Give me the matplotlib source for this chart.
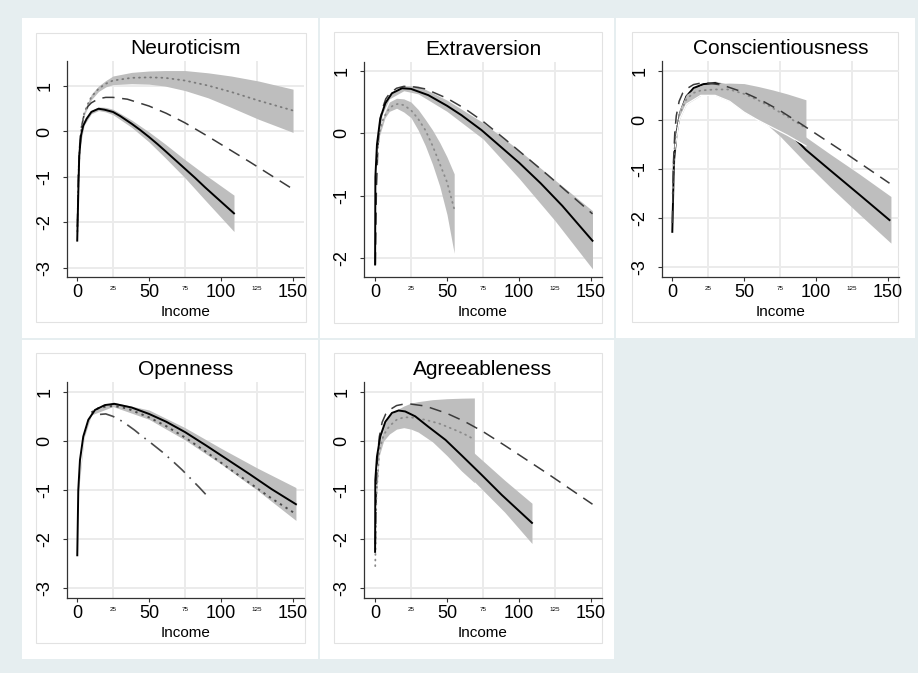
import matplotlib
matplotlib.use('Agg')
import matplotlib.pyplot as plt
from matplotlib.patches import Rectangle

plt.rcParams['font.family'] = ['Liberation Sans', 'DejaVu Sans']
plt.rcParams['axes.unicode_minus'] = False

W, H = 918, 673
BG = '#e6eef0'
BAND = '#bebebe'
GRID = '#ebebeb'
AXC = '#333333'

# ---- data ----
titles = ['Neuroticism', 'Extraversion', 'Conscientiousness', 'Openness', 'Agreeableness']
xticks = [0, 50, 100, 150]
xminor = [25, 75, 125]

# reference curve (long dash), the same in every panel
ref_x = [0.3, 1, 2, 3, 5, 7.5, 10, 15, 20, 25, 35, 50, 62, 75, 90, 105, 120, 135, 151]
ref_y = [-2.1, -0.9, -0.25, 0.08, 0.38, 0.55, 0.63, 0.72, 0.75, 0.75, 0.71, 0.56, 0.40, 0.19,
         -0.09, -0.38, -0.67, -0.97, -1.29]

# Neuroticism
neu_x = [0.2, 1, 1.6, 2.8, 4.4, 6.7, 10, 15, 19, 25, 30, 38, 44, 50, 56, 61, 68, 75, 82, 89, 96, 109]
neu_y = [-2.40, -1.26, -0.53, -0.09, 0.13, 0.28, 0.43, 0.50, 0.48, 0.43, 0.34, 0.17, 0.03, -0.12,
         -0.28, -0.42, -0.62, -0.82, -1.02, -1.23, -1.43, -1.80]
neu_band_x = [0.5, 2, 5, 10, 15, 20, 25, 38, 50, 61, 75, 89, 109]
neu_band_hi = [-1.75, -0.25, 0.22, 0.47, 0.54, 0.53, 0.49, 0.25, -0.01, -0.27, -0.62, -0.95, -1.40]
neu_band_lo = [-1.85, -0.35, 0.14, 0.39, 0.46, 0.43, 0.37, 0.09, -0.23, -0.57, -1.02, -1.51, -2.20]
neu_dot_x = [0.3, 1, 2, 3, 5, 7.5, 10, 15, 20, 25, 38, 50, 61, 75, 91, 107, 126, 150]
neu_dot_y = [-2.2, -1.0, -0.3, 0.05, 0.4, 0.6, 0.76, 0.94, 1.05, 1.12, 1.18, 1.19, 1.18, 1.12, 1.01, 0.87, 0.68, 0.46]
neu_dband_x = [1, 3, 5, 10, 15, 20, 25, 38, 50, 61, 75, 91, 107, 126, 150]
neu_dband_hi = [-0.95, 0.1, 0.45, 0.82, 1.00, 1.12, 1.22, 1.30, 1.33, 1.34, 1.34, 1.29, 1.22, 1.11, 0.93]
neu_dband_lo = [-1.05, 0.0, 0.35, 0.70, 0.88, 0.98, 1.03, 1.05, 1.04, 1.0, 0.9, 0.74, 0.53, 0.27, -0.02]

# Extraversion
ext_x = [0.1, 0.3, 1.4, 3.7, 7.2, 11.8, 18.8, 25, 37, 50, 60, 74, 88, 100, 115, 130, 151]
ext_y = [-2.1, -0.70, -0.18, 0.24, 0.48, 0.64, 0.72, 0.71, 0.61, 0.44, 0.29, 0.05, -0.23, -0.47,
         -0.80, -1.16, -1.72]
ext_band_x = [1, 5, 10, 20, 30, 50, 75, 100, 125, 151]
ext_band_hi = [-0.3, 0.38, 0.62, 0.76, 0.76, 0.53, 0.17, -0.27, -0.75, -1.24]
ext_band_lo = [-0.4, 0.30, 0.55, 0.68, 0.63, 0.35, -0.09, -0.72, -1.40, -2.17]
ext_dot_x = [1, 3, 6, 10, 13, 16, 20, 25, 30, 35, 40, 44, 50, 55]
ext_dot_y = [-0.5, 0.0, 0.25, 0.40, 0.45, 0.47, 0.45, 0.37, 0.23, 0.05, -0.20, -0.43, -0.78, -1.21]
ext_dband_x = [3, 7, 10, 15, 20, 25, 30, 35, 40, 45, 50, 55]
ext_dband_hi = [0.05, 0.35, 0.50, 0.56, 0.55, 0.50, 0.38, 0.22, 0.05, -0.15, -0.38, -0.65]
ext_dband_lo = [-0.05, 0.25, 0.35, 0.40, 0.34, 0.25, 0.05, -0.20, -0.50, -0.85, -1.30, -1.92]

# Conscientiousness
con_x = [0.25, 1.4, 3.2, 5.6, 10, 15, 22, 30, 40, 50, 60, 70, 80, 93, 110, 130, 151]
con_y = [-2.28, -0.82, -0.27, 0.14, 0.48, 0.65, 0.73, 0.75, 0.66, 0.50, 0.30, 0.06, -0.22, -0.61, -1.03, -1.52, -2.04]
con_band_x = [1, 3, 5, 10, 20, 30, 40, 50, 60, 75, 93, 110, 130, 152]
con_band_hi = [-1.0, -0.3, 0.12, 0.52, 0.75, 0.79, 0.72, 0.58, 0.40, 0.10, -0.35, -0.70, -1.10, -1.56]
con_band_lo = [-1.2, -0.45, 0.02, 0.42, 0.65, 0.65, 0.52, 0.30, 0.06, -0.33, -0.88, -1.37, -1.92, -2.51]
con_dot_x = [0.5, 1.5, 3, 5, 10, 15, 20, 25, 30, 40, 50, 60, 70, 80, 93]
con_dot_y = [-1.5, -0.7, -0.2, 0.1, 0.42, 0.55, 0.60, 0.61, 0.62, 0.62, 0.53, 0.40, 0.24, 0.07, -0.17]
con_dband_x = [2, 5, 10, 20, 30, 40, 50, 60, 70, 80, 93]
con_dband_hi = [-0.4, 0.2, 0.52, 0.70, 0.74, 0.75, 0.74, 0.68, 0.61, 0.53, 0.41]
con_dband_lo = [-0.6, 0.0, 0.32, 0.50, 0.50, 0.38, 0.16, -0.01, -0.16, -0.31, -0.53]

# Openness
ope_x = [0.23, 0.93, 2.1, 4.4, 7.9, 12.5, 19.4, 26, 38, 50, 62, 75, 90, 105, 120, 135, 152]
ope_y = [-2.33, -1.0, -0.39, 0.09, 0.43, 0.63, 0.73, 0.755, 0.68, 0.55, 0.39, 0.18, -0.10, -0.39, -0.68, -0.98, -1.29]
ope_band_x = [1, 5, 10, 25, 50, 75, 100, 125, 152]
ope_band_hi = [-0.95, 0.15, 0.59, 0.79, 0.63, 0.27, -0.15, -0.55, -0.95]
ope_band_lo = [-1.05, 0.07, 0.53, 0.70, 0.44, 0.02, -0.47, -1.0, -1.62]
ope_dot_x = [10, 15, 20, 26, 35, 50, 62, 75, 90, 105, 120, 135, 152]
ope_dot_y = [0.58, 0.67, 0.70, 0.71, 0.66, 0.48, 0.30, 0.07, -0.23, -0.55, -0.86, -1.17, -1.49]
ope_dd_x = [16, 20, 25, 32, 40, 45, 50, 59, 66, 73, 80, 85, 91]
ope_dd_y = [0.54, 0.55, 0.50, 0.39, 0.22, 0.10, -0.01, -0.22, -0.40, -0.59, -0.80, -0.95, -1.14]

# Agreeableness
agr_x = [0.1, 0.25, 1.4, 3.7, 7.2, 11.8, 16.4, 21, 28, 37, 49, 60, 74, 88, 109]
agr_y = [-2.26, -0.8, -0.32, 0.09, 0.39, 0.57, 0.62, 0.60, 0.50, 0.29, 0.02, -0.29, -0.69, -1.10, -1.67]
agr_band_x = [1, 5, 10, 20, 30, 50, 69, 90, 109]
agr_band_hi = [-0.45, 0.26, 0.53, 0.66, 0.54, 0.15, -0.25, -0.80, -1.27]
agr_band_lo = [-0.55, 0.18, 0.47, 0.56, 0.40, -0.12, -0.83, -1.45, -2.09]
agr_dot_x = [0.2, 1, 3, 6, 10, 15, 20, 25, 35, 45, 55, 62, 69]
agr_dot_y = [-2.55, -1.1, -0.2, 0.12, 0.30, 0.43, 0.48, 0.48, 0.43, 0.35, 0.23, 0.14, 0.03]
agr_dband_x = [1, 3, 6, 10, 15, 20, 25, 30, 40, 50, 60, 69]
agr_dband_hi = [-1.0, -0.1, 0.25, 0.50, 0.63, 0.71, 0.77, 0.80, 0.84, 0.86, 0.87, 0.875]
agr_dband_lo = [-1.2, -0.3, 0.0, 0.14, 0.24, 0.27, 0.24, 0.18, -0.02, -0.30, -0.61, -0.85]


fig = plt.figure(figsize=(W / 100, H / 100), dpi=100, facecolor=BG)


def px_rect(x0, y0, x1, y1, **kw):
    r = Rectangle((x0 / W, 1 - y1 / H), (x1 - x0) / W, (y1 - y0) / H,
                  transform=fig.transFigure, zorder=-10, **kw)
    fig.add_artist(r)


# white graph regions + inner light boxes
outer = [(22, 18, 318, 338), (320, 18, 614, 338), (616, 18, 915, 338),
         (22, 340, 318, 659), (320, 340, 614, 659)]
inner = [(36, 33, 306, 322), (334, 32, 602, 323), (632, 32, 898, 322),
         (36, 353, 305, 643), (334, 353, 602, 643)]
for o in outer:
    px_rect(*o, facecolor='white', edgecolor='none')
for b in inner:
    px_rect(*b, facecolor='none', edgecolor='#e2e2e2', lw=0.8)


def make_ax(l, t, r, b, xlim, ylim, yticks, title):
    ax = fig.add_axes([l / W, 1 - b / H, (r - l) / W, (b - t) / H])
    ax.set_facecolor('none')
    ax.set_xlim(*xlim)
    ax.set_ylim(*ylim)
    for s in ['top', 'right']:
        ax.spines[s].set_visible(False)
    for s in ['left', 'bottom']:
        ax.spines[s].set_color(AXC)
        ax.spines[s].set_linewidth(0.9)
    ax.set_xticks(xticks)
    ax.set_xticklabels([str(v) for v in xticks], fontsize=13)
    ax.set_xticks(xminor, minor=True)
    ax.set_xticklabels([str(v) for v in xminor], minor=True, fontsize=4.5)
    ax.set_yticks(yticks)
    ax.set_yticklabels([str(v) for v in yticks], fontsize=13, rotation=90, va='center')
    ax.tick_params(axis='x', which='major', length=3, width=0.8, color=AXC, pad=2)
    ax.tick_params(axis='x', which='minor', length=0, pad=6.3)
    ax.tick_params(axis='y', which='major', length=3, width=0.8, color=AXC, pad=6.6)
    ax.xaxis.grid(True, which='minor', color=GRID, lw=1.4)
    ax.yaxis.grid(True, which='major', color=GRID, lw=1.4)
    ax.set_axisbelow(True)
    ax.set_xlabel('Income', fontsize=11, labelpad=3)
    ax.set_title(title, fontsize=15, pad=5)
    return ax


def band(ax, x, lo, hi, z=1):
    ax.fill_between(x, lo, hi, color=BAND, lw=0, zorder=z)


def solid(ax, x, y, z=5):
    ax.plot(x, y, color='black', lw=1.4, zorder=z)


def ref(ax, z=4):
    ax.plot(ref_x, ref_y, color='#3a3a3a', lw=1.1, dashes=(8, 5), zorder=z)


def dotted(ax, x, y, color='#7a7a7a', z=4):
    ax.plot(x, y, color=color, lw=1.3, dashes=(0.5, 2.6), dash_capstyle='round', zorder=z)


yt5 = [1, 0, -1, -2, -3]

# Neuroticism
ax = make_ax(67, 61, 304, 277, (-6.9, 157.6), (-3.2, 1.55), yt5, titles[0])
band(ax, neu_dband_x, neu_dband_lo, neu_dband_hi)
band(ax, neu_band_x, neu_band_lo, neu_band_hi)
ref(ax)
dotted(ax, neu_dot_x, neu_dot_y)
solid(ax, neu_x, neu_y)

# Extraversion
ax = make_ax(364, 62, 602, 277, (-7.6, 157.6), (-2.3, 1.14), [1, 0, -1, -2], titles[1])
band(ax, ext_band_x, ext_band_lo, ext_band_hi)
band(ax, ext_dband_x, ext_dband_lo, ext_dband_hi)
ref(ax)
dotted(ax, ext_dot_x, ext_dot_y, color='#8a8a8a')
solid(ax, ext_x, ext_y)

# Conscientiousness: the dotted group's band sits on top of the solid line
ax = make_ax(662, 61, 899, 277, (-6.9, 157.6), (-3.2, 1.2), yt5, titles[2])
band(ax, con_band_x, con_band_lo, con_band_hi, z=1)
solid(ax, con_x, con_y, z=2)
band(ax, con_dband_x, con_dband_lo, con_dband_hi, z=3)
ax.plot(con_dband_x, con_dband_lo, color='white', lw=0.9, zorder=3.5)
dotted(ax, con_dot_x, con_dot_y, color='#8a8a8a', z=4)
ref(ax, z=5)

# Openness
ax = make_ax(67, 382, 304, 598, (-6.9, 157.6), (-3.2, 1.2), yt5, titles[3])
band(ax, ope_band_x, ope_band_lo, ope_band_hi)
ax.plot(ope_dd_x, ope_dd_y, color='#4a4a4a', lw=1.2, dashes=(9, 4, 1, 4), zorder=4)
ax.plot(ope_dot_x, ope_dot_y, color='#4a4a4a', lw=1.4, dashes=(1.2, 2.2), zorder=4)
solid(ax, ope_x, ope_y)

# Agreeableness
ax = make_ax(364, 382, 602, 598, (-7.6, 157.6), (-3.2, 1.2), yt5, titles[4])
band(ax, agr_band_x, agr_band_lo, agr_band_hi)
band(ax, agr_dband_x, agr_dband_lo, agr_dband_hi)
ref(ax)
dotted(ax, agr_dot_x, agr_dot_y, color='#8a8a8a')
solid(ax, agr_x, agr_y)

fig.savefig('out.png', dpi=100, facecolor=BG)
